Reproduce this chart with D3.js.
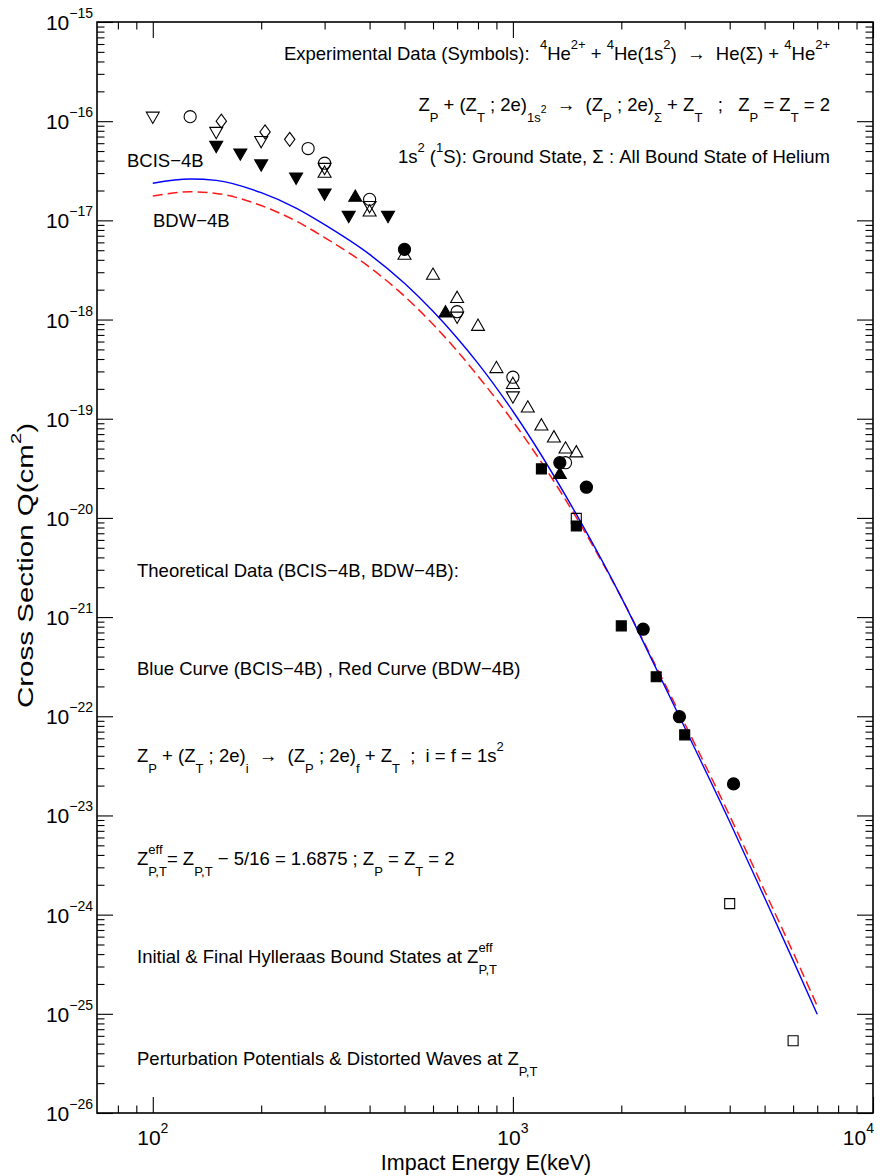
<!DOCTYPE html>
<html>
<head>
<meta charset="utf-8">
<script src="https://cdn.jsdelivr.net/npm/d3@7"></script>
<style>
body { margin: 0; background: #fff; }
svg { display: block; font-family: "Liberation Sans", Arial, sans-serif; }
text { white-space: pre; fill: #000; }
</style>
</head>
<body>
<svg id="drawing_region"></svg>
<script>
// curves (BCIS-4B blue, BDW-4B red)
const curveEnergy = [100, 127, 150, 200, 250, 300, 400, 500, 600, 700, 800, 1000, 1500, 2000, 2500, 3000, 4000, 5000, 6000, 7000];
const bcisValues = [2.37e-17, 2.61e-17, 2.53e-17, 1.90e-17, 1.33e-17, 9.06e-18, 4.54e-18, 2.32e-18, 1.21e-18, 6.52e-19, 3.62e-19, 1.19e-19, 1.09e-20, 1.58e-21, 3.02e-22, 7.7e-23, 8.65e-24, 1.48e-24, 3.46e-25, 9.9e-26];
const bdwValues = [1.76e-17, 1.94e-17, 1.87e-17, 1.41e-17, 9.84e-18, 6.71e-18, 3.37e-18, 1.72e-18, 8.95e-19, 4.83e-19, 2.69e-19, 9.42e-20, 1.01e-20, 1.58e-21, 3.16e-22, 8.45e-23, 9.93e-24, 1.74e-24, 4.16e-25, 1.20e-25];

// experimental points [E keV, Q cm2]
const openDownTri = [[100, 1.09e-16], [150, 7.66e-17], [200, 6.2e-17], [300, 3.32e-17], [400, 1.37e-17], [700, 1.05e-18], [1000, 1.65e-19]];
const openUpTri = [[300, 3.08e-17], [400, 1.25e-17], [500, 4.58e-18], [600, 2.88e-18], [700, 1.68e-18], [800, 8.8e-19], [900, 3.3e-19], [1000, 2.28e-19], [1100, 1.32e-19], [1200, 8.7e-20], [1300, 6.6e-20], [1400, 5.1e-20], [1500, 4.66e-20]];
const openCircle = [[127, 1.11e-16], [270, 5.3e-17], [300, 3.77e-17], [400, 1.63e-17], [700, 1.2e-18], [1000, 2.62e-19], [1400, 3.6e-20]];
const openDiamond = [[155, 1.0e-16], [205, 7.8e-17], [240, 6.56e-17]];
const openSquare = [[1500, 9.9e-21], [4000, 1.29e-24], [6000, 5.35e-26]];
const filledDownTri = [[150, 5.53e-17], [175, 4.64e-17], [200, 3.6e-17], [250, 2.65e-17], [300, 1.83e-17], [350, 1.09e-17], [450, 1.09e-17]];
const filledUpTri = [[365, 1.76e-17], [650, 1.2e-18], [1350, 2.82e-20]];
const filledCircle = [[500, 5.1e-18], [1350, 3.6e-20], [1600, 2.04e-20], [2300, 7.55e-22], [2900, 9.9e-23], [4100, 2.08e-23]];
const filledSquare = [[1200, 3.12e-20], [1500, 8.3e-21], [2000, 8.15e-22], [2500, 2.5e-22], [3000, 6.5e-23]];

// ticks
const xTickExps = [2, 3, 4];
const xMinorTicks = [80, 90, 200, 300, 400, 500, 600, 700, 800, 900, 2000, 3000, 4000, 5000, 6000, 7000, 8000, 9000];
const yTickExps = [-15, -16, -17, -18, -19, -20, -21, -22, -23, -24, -25, -26];


class LogLogChart {

    constructor( config ) {
        this.config = {
            parent: config.parent,
            width: config.width || 893,
            height: config.height || 1176,
            margin: config.margin || {top:22, right:20, bottom:63, left:97}
        }
        this.init();
    }

    init() {
        let self = this;

        self.svg = d3.select( self.config.parent )
            .attr('width', self.config.width)
            .attr('height', self.config.height);

        self.inner_width = self.config.width - self.config.margin.left - self.config.margin.right;
        self.inner_height = self.config.height - self.config.margin.top - self.config.margin.bottom;

        self.chart = self.svg.append('g')
            .attr('transform', `translate(${self.config.margin.left}, ${self.config.margin.top})`);

        self.xscale = d3.scaleLog()
            .domain( [70, 10000] )
            .range( [0, self.inner_width] );

        self.yscale = d3.scaleLog()
            .domain( [1e-26, 1e-15] )
            .range( [self.inner_height, 0] );
    }

    // text with sub/superscripts, laid out piece by piece
    richText( parent, x, y, segs, size, anchor, opt ) {
        const o = Object.assign({small: Math.round(size*0.7), supDy: -size*0.6, subDy: size*0.6, length: null}, opt || {});
        const g = parent.append('g');
        let cx = 0;
        const put = (txt, dy, fs) => {
            const t = g.append('text')
                .attr('x', cx)
                .attr('y', dy)
                .attr('font-size', fs)
                .text(txt);
            return t.node().getComputedTextLength();
        };
        segs.forEach( ([kind, a, b]) => {
            if (kind === 'n') cx += put(a, 0, size);
            else if (kind === 'sup') cx += put(a, o.supDy, o.small);
            else if (kind === 'sub') cx += put(a, o.subDy, o.small);
            else if (kind === 'subsup') cx += put(a, o.subDy - size*0.5, o.small*0.8);
            else if (kind === 'stack') cx += Math.max(put(a, o.supDy, o.small), put(b, o.subDy, o.small));
        });
        const sx = o.length ? o.length / cx : 1;
        let shift = 0;
        if (anchor === 'end') shift = -cx*sx;
        if (anchor === 'middle') shift = -cx*sx/2;
        g.attr('transform', `translate(${x + shift}, ${y}) scale(${sx}, 1)`);
        return g;
    }

    render() {
        let self = this;
        const W = self.inner_width, H = self.inner_height;
        const xMajor = xTickExps.map(e => Math.pow(10, e));
        const yMajor = yTickExps.map(e => Math.pow(10, e));
        const yMinor = [];
        yTickExps.slice(1).forEach(e => { for (let k = 2; k <= 9; k++) yMinor.push(k * Math.pow(10, e)); });

        // ticks on all four sides, pointing inward
        const sides = [
            {gen: d3.axisBottom, scale: self.xscale, pos: `translate(0, ${H})`, major: xMajor, minor: xMinorTicks},
            {gen: d3.axisTop, scale: self.xscale, pos: 'translate(0, 0)', major: xMajor, minor: xMinorTicks},
            {gen: d3.axisLeft, scale: self.yscale, pos: 'translate(0, 0)', major: yMajor, minor: yMinor},
            {gen: d3.axisRight, scale: self.yscale, pos: `translate(${W}, 0)`, major: yMajor, minor: yMinor}
        ];
        sides.forEach( s => {
            [[s.major, 16], [s.minor, 7.5]].forEach( ([vals, len]) => {
                const ax = s.gen( s.scale )
                    .tickValues( vals )
                    .tickSize( -len )
                    .tickFormat( '' );
                const grp = self.chart.append('g')
                    .attr('transform', s.pos)
                    .call( ax );
                grp.select('.domain').remove();
                grp.selectAll('line').attr('stroke', '#000').attr('stroke-width', 1.1);
            });
        });

        self.chart.append('rect')
            .attr('width', W)
            .attr('height', H)
            .attr('fill', 'none')
            .attr('stroke', '#000')
            .attr('stroke-width', 1.6);

        // tick labels
        xTickExps.forEach( (e, i) => {
            const last = i === xTickExps.length - 1;
            self.richText( self.chart, self.xscale(Math.pow(10, e)) + (last ? 1 : 0), H + 32,
                [['n', '10'], ['sup', String(e)]], 21, last ? 'end' : 'middle', {small: 14, supDy: -12});
        });
        yTickExps.forEach( e => {
            self.richText( self.chart, -4, self.yscale(Math.pow(10, e)) + 8,
                [['n', '10'], ['sup', '\u2212' + Math.abs(e)]], 21, 'end', {small: 14, supDy: -12});
        });

        // axis titles
        self.richText( self.svg, self.config.margin.left + W/2 + 1, self.config.height - 6,
            [['n', 'Impact Energy E(keV)']], 21.5, 'middle');
        const ytitle = self.svg.append('g')
            .attr('transform', `translate(33, ${self.config.margin.top + H/2 - 2}) rotate(-90)`);
        self.richText( ytitle, 0, 0, [['n', 'Cross Section Q(cm'], ['sup', '2'], ['n', ')']], 22, 'middle', {small: 15, supDy: -12, length: 285});

        // curves
        const line = d3.line()
            .x( d => self.xscale(d[0]) )
            .y( d => self.yscale(d[1]) )
            .curve( d3.curveMonotoneX );

        self.chart.append('path')
            .datum( curveEnergy.map((e, i) => [e, bdwValues[i]]) )
            .attr('d', line)
            .attr('fill', 'none')
            .attr('stroke', '#ff1a1a')
            .attr('stroke-width', 1.5)
            .attr('stroke-dasharray', '10,5');

        self.chart.append('path')
            .datum( curveEnergy.map((e, i) => [e, bcisValues[i]]) )
            .attr('d', line)
            .attr('fill', 'none')
            .attr('stroke', '#0000ff')
            .attr('stroke-width', 1.4);

        // symbols
        const shapes = {
            upTri: 'M0,-6L6.5,5.3L-6.5,5.3Z',
            downTri: 'M0,6L6.5,-5.3L-6.5,-5.3Z',
            diamond: 'M0,-7L5.2,0L0,7L-5.2,0Z',
            square: 'M-5,-5h10v10h-10Z',
            circle: d3.symbol(d3.symbolCircle, 116)()
        };
        const sets = [
            {data: openDownTri, shape: 'downTri', fill: 'none'},
            {data: openUpTri, shape: 'upTri', fill: 'none'},
            {data: openCircle, shape: 'circle', fill: 'none'},
            {data: openDiamond, shape: 'diamond', fill: 'none'},
            {data: openSquare, shape: 'square', fill: 'none'},
            {data: filledDownTri, shape: 'downTri', fill: '#000'},
            {data: filledUpTri, shape: 'upTri', fill: '#000'},
            {data: filledCircle, shape: 'circle', fill: '#000'},
            {data: filledSquare, shape: 'square', fill: '#000'}
        ];
        sets.forEach( s => {
            self.chart.append('g')
                .selectAll('path')
                .data( s.data )
                .join('path')
                .attr('d', shapes[s.shape])
                .attr('transform', d => `translate(${self.xscale(d[0])}, ${self.yscale(d[1])})`)
                .attr('fill', s.fill)
                .attr('stroke', '#000')
                .attr('stroke-width', 1.1);
        });

        // annotations
        const F = 18.5, o = {small: 13, supDy: -11, subDy: 11};
        const ann = self.svg.append('g');
        self.richText( ann, 830, 60, [['n', 'Experimental Data (Symbols):  '], ['sup', '4'], ['n', 'He'], ['sup', '2+'], ['n', ' + '], ['sup', '4'], ['n', 'He(1s'], ['sup', '2'], ['n', ')  \u2192  He(\u03a3) + '], ['sup', '4'], ['n', 'He'], ['sup', '2+']], F, 'end', o);
        self.richText( ann, 830, 111, [['n', 'Z'], ['sub', 'P'], ['n', ' + (Z'], ['sub', 'T'], ['n', ' ; 2e)'], ['sub', '1s'], ['subsup', '2'], ['n', '  \u2192  (Z'], ['sub', 'P'], ['n', ' ; 2e)'], ['sub', '\u03a3'], ['n', ' + Z'], ['sub', 'T'], ['n', '   ;   Z'], ['sub', 'P'], ['n', ' = Z'], ['sub', 'T'], ['n', ' = 2']], F, 'end', o);
        self.richText( ann, 830, 163, [['n', '1s'], ['sup', '2'], ['n', ' ('], ['sup', '1'], ['n', 'S): Ground State, \u03a3 : All Bound State of Helium']], F, 'end', o);

        self.richText( ann, 127, 167, [['n', 'BCIS\u22124B']], F, 'start');
        self.richText( ann, 153, 227, [['n', 'BDW\u22124B']], F, 'start');

        self.richText( ann, 137, 577, [['n', 'Theoretical Data (BCIS\u22124B, BDW\u22124B):']], F, 'start');
        self.richText( ann, 137, 675, [['n', 'Blue Curve (BCIS\u22124B) , Red Curve (BDW\u22124B)']], F, 'start');
        self.richText( ann, 137, 762, [['n', 'Z'], ['sub', 'P'], ['n', ' + (Z'], ['sub', 'T'], ['n', ' ; 2e)'], ['sub', 'i'], ['n', '  \u2192  (Z'], ['sub', 'P'], ['n', ' ; 2e)'], ['sub', 'f'], ['n', ' + Z'], ['sub', 'T'], ['n', '  ;  i = f = 1s'], ['sup', '2']], F, 'start', o);
        self.richText( ann, 137, 865, [['n', 'Z'], ['stack', 'eff', 'P,T'], ['n', '= Z'], ['sub', 'P,T'], ['n', ' \u2212 5/16 = 1.6875 ; Z'], ['sub', 'P'], ['n', ' = Z'], ['sub', 'T'], ['n', ' = 2']], F, 'start', o);
        self.richText( ann, 137, 963, [['n', 'Initial & Final Hylleraas Bound States at Z'], ['stack', 'eff', 'P,T']], F, 'start', o);
        self.richText( ann, 137, 1065, [['n', 'Perturbation Potentials & Distorted Waves at Z'], ['sub', 'P,T']], F, 'start', o);
    }
}

const chart = new LogLogChart({
    parent: '#drawing_region',
    width: 893,
    height: 1176,
    margin: {top:22, right:20, bottom:63, left:97}
});
chart.render();
</script>
</body>
</html>
